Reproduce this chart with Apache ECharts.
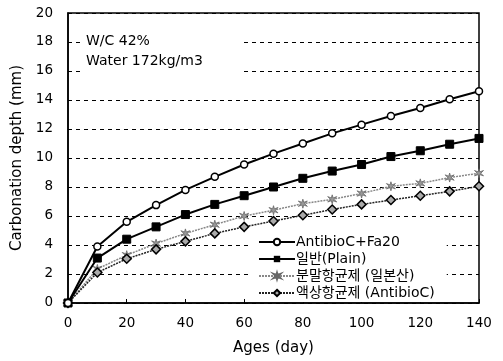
<!DOCTYPE html>
<html><head><meta charset="utf-8">
<script src="https://cdn.jsdelivr.net/npm/echarts@6/dist/echarts.min.js"></script>
<style>html,body{margin:0;padding:0;background:#fff}#c{width:503px;height:361px}</style>
</head><body><div id="c"></div>
<script>
var ages = [0,10,20,30,40,50,60,70,80,90,100,110,120,130,140];
var seriesNames = ['AntibioC+Fa20','일반(Plain)','분말항균제 (일본산)','액상항균제 (AntibioC)'];
var antibiocFa20 = [0,3.9,5.6,6.75,7.8,8.7,9.55,10.3,11.0,11.7,12.3,12.9,13.45,14.05,14.6];
var plain = [0,3.1,4.4,5.25,6.1,6.8,7.4,8.0,8.6,9.1,9.55,10.1,10.5,10.95,11.35];
var powder = [0,2.35,3.3,4.1,4.8,5.4,6.0,6.4,6.85,7.15,7.55,8.05,8.25,8.65,8.95];
var liquid = [0,2.1,3.05,3.7,4.25,4.8,5.25,5.65,6.05,6.45,6.8,7.1,7.4,7.7,8.05];
var yTicks = [0,2,4,6,8,10,12,14,16,18,20];
var xTicks = [0,20,40,60,80,100,120,140];

var FONT = 'DejaVu Sans, Noto Sans CJK KR, sans-serif';
function pairs(v){ return ages.map(function(a,i){ return [a, v[i]]; }); }
var starPath = 'path://M5,0 L6,3.5 L10,2 L7,5 L10,8 L6,6.5 L5,10 L4,6.5 L0,8 L3,5 L0,2 L4,3.5 Z';

var chart = echarts.init(document.getElementById('c'), null, {renderer:'canvas'});
chart.setOption({
  animation:false,
  backgroundColor:'#fff',
  grid:{left:68, right:24, top:13, bottom:58, show:true, borderColor:'#000', borderWidth:1.5, backgroundColor:'transparent'},
  xAxis:{type:'value', min:0, max:140, interval:20,
    axisLine:{lineStyle:{color:'#000', width:1.5}},
    axisTick:{inside:true, length:4, lineStyle:{color:'#000'}},
    axisLabel:{color:'#000', fontSize:13.5, fontFamily:FONT, margin:14,
      formatter:function(v){ return xTicks.indexOf(v)>=0 ? String(v) : ''; }},
    splitLine:{show:false},
    name:'Ages (day)', nameLocation:'middle', nameGap:38,
    nameTextStyle:{color:'#000', fontSize:15, fontFamily:FONT}
  },
  yAxis:{type:'value', min:0, max:20, interval:2,
    axisLine:{lineStyle:{color:'#000', width:1.5}},
    axisTick:{show:false},
    axisLabel:{color:'#000', fontSize:13.5, fontFamily:FONT, margin:15,
      formatter:function(v){ return yTicks.indexOf(v)>=0 ? String(v) : ''; }},
    splitLine:{show:true, lineStyle:{color:'#000', type:[4,4], width:1}},
    name:'Carbonation depth (mm)', nameLocation:'middle', nameGap:41,
    nameTextStyle:{color:'#000', fontSize:15, fontFamily:FONT}
  },
  legend:{orient:'vertical', left:251, top:233, itemWidth:36, itemHeight:8, itemGap:3,
    backgroundColor:'#fff', padding:[2,12,2,7],
    textStyle:{color:'#000', fontSize:14, fontFamily:FONT, padding:[0,0,0,-4]},
    data:seriesNames},
  graphic:[
    {type:'rect', left:80, top:30, shape:{width:164, height:46}, style:{fill:'#fff'}, z:10},
    {type:'text', left:86, top:34, z:11, style:{text:'W/C 42%', fill:'#000', font:'14px '+FONT}},
    {type:'text', left:86, top:54, z:11, style:{text:'Water 172kg/m3', fill:'#000', font:'14px '+FONT}}
  ],
  series:[
    {name:seriesNames[0], type:'line', data:pairs(antibiocFa20), symbol:'circle', symbolSize:7,
      itemStyle:{color:'#fff', borderColor:'#000', borderWidth:1.5},
      lineStyle:{color:'#000', width:2}, z:5},
    {name:seriesNames[1], type:'line', data:pairs(plain), symbol:'rect', symbolSize:8,
      itemStyle:{color:'#000', borderColor:'#000'},
      lineStyle:{color:'#000', width:2}, z:4},
    {name:seriesNames[2], type:'line', data:pairs(powder), symbol:starPath, symbolSize:9,
      itemStyle:{color:'#999', borderColor:'#666', borderWidth:0.8},
      lineStyle:{color:'#888', width:1.5, type:[2,1]}, z:3},
    {name:seriesNames[3], type:'line', data:pairs(liquid), symbol:'diamond', symbolSize:9,
      itemStyle:{color:'#aaa', borderColor:'#000', borderWidth:1.5},
      lineStyle:{color:'#222', width:1.5, type:[2,1]}, z:3}
  ]
});
</script></body></html>
